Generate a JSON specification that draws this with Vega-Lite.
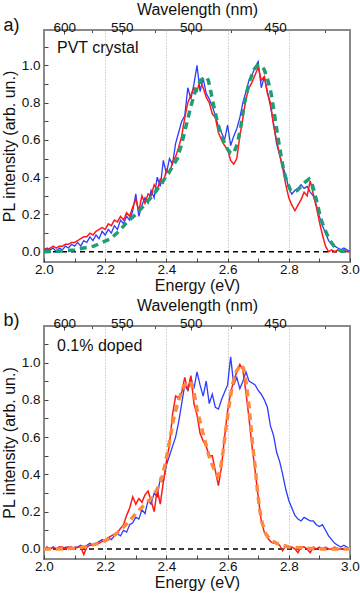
{
"$schema": "https://vega.github.io/schema/vega-lite/v6.json",
"padding": {"left": 0, "top": 0, "right": 0, "bottom": 0},
"config": {"font": "Liberation Sans", "view": {"stroke": "#8a8a8a", "strokeWidth": 2},
  "axis": {"domain": false, "grid": false, "labelFontSize": 13.5, "titleFontSize": 16, "titleFontWeight": "normal", "labelColor": "#111", "titleColor": "#111", "tickColor": "#444", "tickWidth": 1, "labelFlush": false, "labelOverlap": false}},
"datasets": {
"aBlue": [{"E":2.00,"I":0.01},{"E":2.01,"I":0.02},{"E":2.02,"I":0.01},{"E":2.03,"I":0.02},{"E":2.04,"I":0.00},{"E":2.05,"I":0.02},{"E":2.06,"I":0.01},{"E":2.07,"I":0.03},{"E":2.08,"I":0.02},{"E":2.09,"I":0.04},{"E":2.10,"I":0.03},{"E":2.11,"I":0.05},{"E":2.12,"I":0.03},{"E":2.13,"I":0.06},{"E":2.14,"I":0.05},{"E":2.15,"I":0.08},{"E":2.16,"I":0.06},{"E":2.17,"I":0.09},{"E":2.18,"I":0.07},{"E":2.19,"I":0.11},{"E":2.20,"I":0.09},{"E":2.21,"I":0.12},{"E":2.22,"I":0.10},{"E":2.23,"I":0.14},{"E":2.24,"I":0.12},{"E":2.25,"I":0.17},{"E":2.26,"I":0.15},{"E":2.27,"I":0.19},{"E":2.28,"I":0.17},{"E":2.29,"I":0.22},{"E":2.30,"I":0.31},{"E":2.31,"I":0.19},{"E":2.32,"I":0.25},{"E":2.33,"I":0.29},{"E":2.34,"I":0.26},{"E":2.35,"I":0.33},{"E":2.36,"I":0.29},{"E":2.37,"I":0.40},{"E":2.38,"I":0.35},{"E":2.39,"I":0.49},{"E":2.40,"I":0.42},{"E":2.41,"I":0.50},{"E":2.42,"I":0.47},{"E":2.43,"I":0.58},{"E":2.44,"I":0.64},{"E":2.45,"I":0.70},{"E":2.46,"I":0.73},{"E":2.47,"I":0.88},{"E":2.48,"I":0.82},{"E":2.49,"I":0.90},{"E":2.50,"I":1.00},{"E":2.51,"I":0.86},{"E":2.52,"I":0.93},{"E":2.53,"I":0.85},{"E":2.54,"I":0.82},{"E":2.55,"I":0.78},{"E":2.56,"I":0.73},{"E":2.57,"I":0.67},{"E":2.58,"I":0.64},{"E":2.59,"I":0.60},{"E":2.60,"I":0.68},{"E":2.61,"I":0.57},{"E":2.62,"I":0.62},{"E":2.63,"I":0.66},{"E":2.64,"I":0.72},{"E":2.65,"I":0.80},{"E":2.66,"I":0.86},{"E":2.67,"I":0.92},{"E":2.68,"I":0.95},{"E":2.69,"I":0.99},{"E":2.70,"I":1.02},{"E":2.71,"I":0.88},{"E":2.72,"I":0.94},{"E":2.73,"I":0.86},{"E":2.74,"I":0.78},{"E":2.75,"I":0.69},{"E":2.76,"I":0.58},{"E":2.77,"I":0.52},{"E":2.78,"I":0.46},{"E":2.79,"I":0.41},{"E":2.80,"I":0.34},{"E":2.81,"I":0.31},{"E":2.82,"I":0.33},{"E":2.83,"I":0.34},{"E":2.84,"I":0.36},{"E":2.85,"I":0.34},{"E":2.86,"I":0.35},{"E":2.87,"I":0.32},{"E":2.88,"I":0.30},{"E":2.89,"I":0.25},{"E":2.90,"I":0.19},{"E":2.91,"I":0.14},{"E":2.92,"I":0.10},{"E":2.93,"I":0.06},{"E":2.94,"I":0.04},{"E":2.95,"I":0.03},{"E":2.96,"I":0.02},{"E":2.97,"I":0.01},{"E":2.98,"I":0.02},{"E":2.99,"I":0.01},{"E":3.00,"I":0.00}],
"aRed": [{"E":2.00,"I":0.02},{"E":2.01,"I":0.01},{"E":2.02,"I":0.02},{"E":2.03,"I":0.03},{"E":2.04,"I":0.02},{"E":2.05,"I":0.03},{"E":2.06,"I":0.03},{"E":2.07,"I":0.04},{"E":2.08,"I":0.04},{"E":2.09,"I":0.05},{"E":2.10,"I":0.05},{"E":2.11,"I":0.06},{"E":2.12,"I":0.07},{"E":2.13,"I":0.08},{"E":2.14,"I":0.08},{"E":2.15,"I":0.10},{"E":2.16,"I":0.09},{"E":2.17,"I":0.11},{"E":2.18,"I":0.12},{"E":2.19,"I":0.13},{"E":2.20,"I":0.12},{"E":2.21,"I":0.15},{"E":2.22,"I":0.14},{"E":2.23,"I":0.17},{"E":2.24,"I":0.16},{"E":2.25,"I":0.19},{"E":2.26,"I":0.17},{"E":2.27,"I":0.21},{"E":2.28,"I":0.19},{"E":2.29,"I":0.24},{"E":2.30,"I":0.28},{"E":2.31,"I":0.22},{"E":2.32,"I":0.30},{"E":2.33,"I":0.26},{"E":2.34,"I":0.31},{"E":2.35,"I":0.30},{"E":2.36,"I":0.36},{"E":2.37,"I":0.33},{"E":2.38,"I":0.39},{"E":2.39,"I":0.37},{"E":2.40,"I":0.44},{"E":2.41,"I":0.42},{"E":2.42,"I":0.48},{"E":2.43,"I":0.51},{"E":2.44,"I":0.56},{"E":2.45,"I":0.62},{"E":2.46,"I":0.72},{"E":2.47,"I":0.80},{"E":2.48,"I":0.84},{"E":2.49,"I":0.88},{"E":2.50,"I":0.86},{"E":2.51,"I":0.92},{"E":2.52,"I":0.88},{"E":2.53,"I":0.83},{"E":2.54,"I":0.80},{"E":2.55,"I":0.74},{"E":2.56,"I":0.72},{"E":2.57,"I":0.64},{"E":2.58,"I":0.60},{"E":2.59,"I":0.57},{"E":2.60,"I":0.55},{"E":2.61,"I":0.49},{"E":2.62,"I":0.47},{"E":2.63,"I":0.50},{"E":2.64,"I":0.62},{"E":2.65,"I":0.72},{"E":2.66,"I":0.82},{"E":2.67,"I":0.88},{"E":2.68,"I":0.91},{"E":2.69,"I":0.95},{"E":2.70,"I":0.99},{"E":2.71,"I":0.92},{"E":2.72,"I":0.94},{"E":2.73,"I":0.85},{"E":2.74,"I":0.80},{"E":2.75,"I":0.68},{"E":2.76,"I":0.60},{"E":2.77,"I":0.52},{"E":2.78,"I":0.45},{"E":2.79,"I":0.36},{"E":2.80,"I":0.29},{"E":2.81,"I":0.25},{"E":2.82,"I":0.22},{"E":2.83,"I":0.25},{"E":2.84,"I":0.28},{"E":2.85,"I":0.32},{"E":2.86,"I":0.30},{"E":2.87,"I":0.38},{"E":2.88,"I":0.31},{"E":2.89,"I":0.24},{"E":2.90,"I":0.16},{"E":2.91,"I":0.09},{"E":2.92,"I":0.03},{"E":2.93,"I":0.00},{"E":2.94,"I":0.01},{"E":2.95,"I":0.00},{"E":2.96,"I":0.01},{"E":2.97,"I":0.00},{"E":2.98,"I":0.01},{"E":2.99,"I":0.00},{"E":3.00,"I":0.00}],
"aGreen": [{"E":2.0,"I":0.0},{"E":2.05,"I":0.003},{"E":2.1,"I":0.01},{"E":2.13,"I":0.02},{"E":2.163,"I":0.03},{"E":2.19,"I":0.05},{"E":2.218,"I":0.07},{"E":2.245,"I":0.11},{"E":2.272,"I":0.16},{"E":2.3,"I":0.2},{"E":2.327,"I":0.25},{"E":2.355,"I":0.3},{"E":2.381,"I":0.36},{"E":2.41,"I":0.43},{"E":2.436,"I":0.5},{"E":2.45,"I":0.58},{"E":2.468,"I":0.7},{"E":2.48,"I":0.78},{"E":2.49,"I":0.84},{"E":2.5,"I":0.885},{"E":2.512,"I":0.92},{"E":2.528,"I":0.94},{"E":2.537,"I":0.92},{"E":2.545,"I":0.86},{"E":2.555,"I":0.78},{"E":2.566,"I":0.7},{"E":2.577,"I":0.64},{"E":2.588,"I":0.59},{"E":2.6,"I":0.55},{"E":2.61,"I":0.53},{"E":2.62,"I":0.53},{"E":2.632,"I":0.58},{"E":2.643,"I":0.67},{"E":2.654,"I":0.79},{"E":2.665,"I":0.87},{"E":2.675,"I":0.93},{"E":2.687,"I":0.98},{"E":2.697,"I":1.0},{"E":2.708,"I":1.0},{"E":2.719,"I":0.98},{"E":2.73,"I":0.93},{"E":2.741,"I":0.86},{"E":2.752,"I":0.75},{"E":2.763,"I":0.63},{"E":2.774,"I":0.52},{"E":2.784,"I":0.43},{"E":2.795,"I":0.37},{"E":2.806,"I":0.33},{"E":2.817,"I":0.32},{"E":2.828,"I":0.33},{"E":2.84,"I":0.35},{"E":2.85,"I":0.37},{"E":2.866,"I":0.39},{"E":2.875,"I":0.37},{"E":2.882,"I":0.33},{"E":2.893,"I":0.26},{"E":2.904,"I":0.18},{"E":2.915,"I":0.13},{"E":2.926,"I":0.09},{"E":2.937,"I":0.055},{"E":2.948,"I":0.03},{"E":2.96,"I":0.015},{"E":2.97,"I":0.005},{"E":2.985,"I":0.002},{"E":3.0,"I":0.0}],
"bBlue": [{"E":2.00,"I":0.00},{"E":2.01,"I":0.01},{"E":2.02,"I":0.00},{"E":2.03,"I":0.01},{"E":2.04,"I":0.00},{"E":2.05,"I":0.01},{"E":2.06,"I":0.00},{"E":2.07,"I":0.01},{"E":2.08,"I":0.01},{"E":2.09,"I":0.00},{"E":2.10,"I":0.01},{"E":2.11,"I":0.01},{"E":2.12,"I":0.02},{"E":2.13,"I":0.01},{"E":2.14,"I":0.02},{"E":2.15,"I":0.03},{"E":2.16,"I":0.02},{"E":2.17,"I":0.03},{"E":2.18,"I":0.04},{"E":2.19,"I":0.05},{"E":2.20,"I":0.04},{"E":2.21,"I":0.06},{"E":2.22,"I":0.05},{"E":2.23,"I":0.07},{"E":2.24,"I":0.08},{"E":2.25,"I":0.07},{"E":2.26,"I":0.10},{"E":2.27,"I":0.09},{"E":2.28,"I":0.13},{"E":2.29,"I":0.14},{"E":2.30,"I":0.17},{"E":2.31,"I":0.16},{"E":2.32,"I":0.21},{"E":2.33,"I":0.19},{"E":2.34,"I":0.26},{"E":2.35,"I":0.24},{"E":2.36,"I":0.30},{"E":2.37,"I":0.28},{"E":2.38,"I":0.38},{"E":2.39,"I":0.36},{"E":2.40,"I":0.45},{"E":2.41,"I":0.50},{"E":2.42,"I":0.55},{"E":2.43,"I":0.60},{"E":2.44,"I":0.68},{"E":2.45,"I":0.78},{"E":2.46,"I":0.88},{"E":2.47,"I":0.85},{"E":2.48,"I":0.92},{"E":2.49,"I":0.86},{"E":2.50,"I":0.95},{"E":2.51,"I":0.88},{"E":2.52,"I":0.82},{"E":2.53,"I":0.90},{"E":2.54,"I":0.78},{"E":2.55,"I":0.83},{"E":2.56,"I":0.76},{"E":2.57,"I":0.75},{"E":2.58,"I":0.80},{"E":2.59,"I":0.84},{"E":2.60,"I":0.88},{"E":2.61,"I":1.03},{"E":2.62,"I":0.88},{"E":2.63,"I":0.92},{"E":2.64,"I":0.86},{"E":2.65,"I":0.90},{"E":2.66,"I":0.95},{"E":2.67,"I":0.90},{"E":2.68,"I":0.89},{"E":2.69,"I":0.88},{"E":2.70,"I":0.85},{"E":2.71,"I":0.83},{"E":2.72,"I":0.80},{"E":2.73,"I":0.76},{"E":2.74,"I":0.66},{"E":2.75,"I":0.61},{"E":2.76,"I":0.52},{"E":2.77,"I":0.47},{"E":2.78,"I":0.40},{"E":2.79,"I":0.32},{"E":2.80,"I":0.26},{"E":2.81,"I":0.22},{"E":2.82,"I":0.18},{"E":2.83,"I":0.16},{"E":2.84,"I":0.15},{"E":2.85,"I":0.17},{"E":2.86,"I":0.16},{"E":2.87,"I":0.15},{"E":2.88,"I":0.15},{"E":2.89,"I":0.13},{"E":2.90,"I":0.12},{"E":2.91,"I":0.13},{"E":2.92,"I":0.10},{"E":2.93,"I":0.07},{"E":2.94,"I":0.05},{"E":2.95,"I":0.03},{"E":2.96,"I":0.02},{"E":2.97,"I":0.01},{"E":2.98,"I":0.02},{"E":2.99,"I":0.01},{"E":3.00,"I":0.00}],
"bRed": [{"E":2.00,"I":0.00},{"E":2.01,"I":0.01},{"E":2.02,"I":0.00},{"E":2.03,"I":0.01},{"E":2.04,"I":0.00},{"E":2.05,"I":0.01},{"E":2.06,"I":0.01},{"E":2.07,"I":0.00},{"E":2.08,"I":0.01},{"E":2.09,"I":0.01},{"E":2.10,"I":0.00},{"E":2.11,"I":0.01},{"E":2.12,"I":0.01},{"E":2.13,"I":-0.03},{"E":2.14,"I":0.01},{"E":2.15,"I":0.02},{"E":2.16,"I":0.02},{"E":2.17,"I":0.03},{"E":2.18,"I":0.03},{"E":2.19,"I":0.04},{"E":2.20,"I":0.05},{"E":2.21,"I":0.06},{"E":2.22,"I":0.07},{"E":2.23,"I":0.08},{"E":2.24,"I":0.09},{"E":2.25,"I":0.11},{"E":2.26,"I":0.13},{"E":2.27,"I":0.18},{"E":2.28,"I":0.22},{"E":2.29,"I":0.28},{"E":2.30,"I":0.24},{"E":2.31,"I":0.27},{"E":2.32,"I":0.25},{"E":2.33,"I":0.29},{"E":2.34,"I":0.31},{"E":2.35,"I":0.26},{"E":2.36,"I":0.20},{"E":2.37,"I":0.32},{"E":2.38,"I":0.24},{"E":2.39,"I":0.36},{"E":2.40,"I":0.47},{"E":2.41,"I":0.56},{"E":2.42,"I":0.72},{"E":2.43,"I":0.82},{"E":2.44,"I":0.81},{"E":2.45,"I":0.84},{"E":2.46,"I":0.92},{"E":2.47,"I":0.85},{"E":2.48,"I":0.93},{"E":2.49,"I":0.78},{"E":2.50,"I":0.72},{"E":2.51,"I":0.62},{"E":2.52,"I":0.58},{"E":2.53,"I":0.55},{"E":2.54,"I":0.50},{"E":2.55,"I":0.50},{"E":2.56,"I":0.42},{"E":2.57,"I":0.34},{"E":2.58,"I":0.44},{"E":2.59,"I":0.60},{"E":2.60,"I":0.74},{"E":2.61,"I":0.84},{"E":2.62,"I":0.90},{"E":2.63,"I":0.95},{"E":2.64,"I":0.99},{"E":2.65,"I":0.96},{"E":2.66,"I":0.84},{"E":2.67,"I":0.70},{"E":2.68,"I":0.55},{"E":2.69,"I":0.42},{"E":2.70,"I":0.28},{"E":2.71,"I":0.15},{"E":2.72,"I":0.09},{"E":2.73,"I":0.06},{"E":2.74,"I":0.04},{"E":2.75,"I":0.03},{"E":2.76,"I":0.03},{"E":2.77,"I":0.02},{"E":2.78,"I":-0.01},{"E":2.79,"I":0.02},{"E":2.80,"I":0.01},{"E":2.81,"I":0.01},{"E":2.82,"I":0.00},{"E":2.83,"I":-0.02},{"E":2.84,"I":0.01},{"E":2.85,"I":0.01},{"E":2.86,"I":0.00},{"E":2.87,"I":-0.02},{"E":2.88,"I":0.01},{"E":2.89,"I":0.00},{"E":2.90,"I":0.01},{"E":2.91,"I":0.00},{"E":2.92,"I":0.01},{"E":2.93,"I":0.00},{"E":2.94,"I":0.00},{"E":2.95,"I":0.01},{"E":2.96,"I":0.00},{"E":2.97,"I":0.00},{"E":2.98,"I":0.00},{"E":2.99,"I":0.00},{"E":3.00,"I":0.00}],
"bOrange": [{"E":2.0,"I":0.0},{"E":2.05,"I":0.0},{"E":2.1,"I":0.003},{"E":2.13,"I":0.01},{"E":2.155,"I":0.02},{"E":2.18,"I":0.03},{"E":2.2,"I":0.045},{"E":2.22,"I":0.06},{"E":2.25,"I":0.1},{"E":2.28,"I":0.15},{"E":2.3,"I":0.19},{"E":2.33,"I":0.24},{"E":2.35,"I":0.27},{"E":2.37,"I":0.32},{"E":2.385,"I":0.38},{"E":2.395,"I":0.45},{"E":2.405,"I":0.53},{"E":2.415,"I":0.62},{"E":2.425,"I":0.71},{"E":2.44,"I":0.8},{"E":2.457,"I":0.875},{"E":2.479,"I":0.9},{"E":2.49,"I":0.84},{"E":2.5,"I":0.75},{"E":2.512,"I":0.67},{"E":2.523,"I":0.6},{"E":2.539,"I":0.5},{"E":2.55,"I":0.45},{"E":2.561,"I":0.41},{"E":2.568,"I":0.39},{"E":2.576,"I":0.42},{"E":2.585,"I":0.52},{"E":2.594,"I":0.64},{"E":2.605,"I":0.77},{"E":2.615,"I":0.875},{"E":2.628,"I":0.95},{"E":2.643,"I":0.99},{"E":2.652,"I":0.97},{"E":2.659,"I":0.91},{"E":2.67,"I":0.77},{"E":2.681,"I":0.57},{"E":2.69,"I":0.44},{"E":2.697,"I":0.32},{"E":2.705,"I":0.21},{"E":2.713,"I":0.14},{"E":2.725,"I":0.08},{"E":2.74,"I":0.05},{"E":2.76,"I":0.03},{"E":2.78,"I":0.02},{"E":2.8,"I":0.01},{"E":2.85,"I":0.005},{"E":2.9,"I":0.0},{"E":3.0,"I":0.0}],
"labelsA": [{"t":"PVT crystal","E":2.0425,"I":1.096}],
"labelsB": [{"t":"0.1% doped","E":2.0425,"I":1.089}],
"tagA": [{"t":"a)","E":1.894,"I":1.214}],
"tagB": [{"t":"b)","E":1.894,"I":1.223}],
"zero": [{"E":2,"E2":3,"I":0}]
},
"spacing": 64,
"bounds": "flush",
"vconcat": [
{
 "width": 306, "height": 232,
 "resolve": {"axis": {"x": "independent", "y": "independent"}},
 "layer": [
  {"data": {"name": "zero"}, "mark": {"type": "rule", "color": "#000", "strokeWidth": 1.5, "strokeDash": [5, 4]},
   "encoding": {
    "x": {"field": "E", "type": "quantitative", "scale": {"domain": [2, 3], "nice": false, "zero": false}, "axis": {"orient": "top", "values": [2.15624, 2.36160, 2.61019, 2.91727], "tickSize": -2.5, "labels": false, "title": null}},
    "x2": {"field": "E2"},
    "y": {"field": "I", "type": "quantitative", "scale": {"domain": [-0.055, 1.19], "nice": false, "zero": false}, "axis": null}}},
  {"data": {"name": "aBlue"}, "mark": {"type": "line", "color": "#2b3cff", "strokeWidth": 1.3, "clip": true},
   "encoding": {
    "x": {"field": "E", "type": "quantitative", "axis": {"orient": "bottom", "values": [2, 2.1, 2.2, 2.3, 2.4, 2.5, 2.6, 2.7, 2.8, 2.9, 3], "labelExpr": "round(datum.value*10)%2==0 ? format(datum.value,'.1f') : ''", "tickSize": -4, "labelPadding": 4, "titlePadding": 2, "title": "Energy (eV)"}},
    "y": {"field": "I", "type": "quantitative", "axis": {"orient": "left", "values": [0, 0.1, 0.2, 0.3, 0.4, 0.5, 0.6, 0.7, 0.8, 0.9, 1.0, 1.1], "labelExpr": "round(datum.value*10)%2==0 ? format(datum.value,'.1f') : ''", "tickSize": -4, "labelPadding": 8, "title": "PL intensity (arb. un.)"}}}},
  {"data": {"name": "aRed"}, "mark": {"type": "line", "color": "#ff1a1a", "strokeWidth": 1.5, "clip": true},
   "encoding": {
    "x": {"field": "E", "type": "quantitative", "axis": {"orient": "bottom", "values": [2.2, 2.4, 2.6, 2.8], "grid": true, "gridDash": [1, 2], "gridColor": "#aaaaaa", "ticks": false, "labels": false, "title": null}},
    "y": {"field": "I", "type": "quantitative", "axis": null}}},
  {"data": {"name": "aGreen"}, "mark": {"type": "line", "color": "#1f9e74", "strokeWidth": 3.5, "strokeDash": [7, 5], "clip": true},
   "encoding": {
    "x": {"field": "E", "type": "quantitative", "axis": {"orient": "top", "values": [2.06640, 2.25426, 2.47968, 2.75520], "labelExpr": "format(1239.84/datum.value,'.0f')", "tickSize": -4, "labelPadding": 0, "titlePadding": 3, "title": "Wavelength (nm)"}},
    "y": {"field": "I", "type": "quantitative", "axis": null}}},
  {"data": {"name": "labelsA"}, "mark": {"type": "text", "align": "left", "baseline": "middle", "fontSize": 16, "color": "#111"},
   "encoding": {"x": {"field": "E", "type": "quantitative", "axis": null}, "y": {"field": "I", "type": "quantitative", "axis": null}, "text": {"field": "t"}}},
  {"data": {"name": "tagA"}, "mark": {"type": "text", "align": "center", "baseline": "middle", "fontSize": 18, "color": "#111"},
   "encoding": {"x": {"field": "E", "type": "quantitative", "axis": null}, "y": {"field": "I", "type": "quantitative", "axis": null}, "text": {"field": "t"}}}
 ]
},
{
 "width": 306, "height": 233,
 "resolve": {"axis": {"x": "independent", "y": "independent"}},
 "layer": [
  {"data": {"name": "zero"}, "mark": {"type": "rule", "color": "#000", "strokeWidth": 1.5, "strokeDash": [5, 4]},
   "encoding": {
    "x": {"field": "E", "type": "quantitative", "scale": {"domain": [2, 3], "nice": false, "zero": false}, "axis": {"orient": "top", "values": [2.15624, 2.36160, 2.61019, 2.91727], "tickSize": -2.5, "labels": false, "title": null}},
    "x2": {"field": "E2"},
    "y": {"field": "I", "type": "quantitative", "scale": {"domain": [-0.054, 1.196], "nice": false, "zero": false}, "axis": null}}},
  {"data": {"name": "bBlue"}, "mark": {"type": "line", "color": "#2b3cff", "strokeWidth": 1.3, "clip": true},
   "encoding": {
    "x": {"field": "E", "type": "quantitative", "axis": {"orient": "bottom", "values": [2, 2.1, 2.2, 2.3, 2.4, 2.5, 2.6, 2.7, 2.8, 2.9, 3], "labelExpr": "round(datum.value*10)%2==0 ? format(datum.value,'.1f') : ''", "tickSize": -4, "labelPadding": 4, "titlePadding": 2, "title": "Energy (eV)"}},
    "y": {"field": "I", "type": "quantitative", "axis": {"orient": "left", "values": [0, 0.1, 0.2, 0.3, 0.4, 0.5, 0.6, 0.7, 0.8, 0.9, 1.0, 1.1], "labelExpr": "round(datum.value*10)%2==0 ? format(datum.value,'.1f') : ''", "tickSize": -4, "labelPadding": 8, "title": "PL intensity (arb. un.)"}}}},
  {"data": {"name": "bRed"}, "mark": {"type": "line", "color": "#ff1a1a", "strokeWidth": 1.5, "clip": true},
   "encoding": {
    "x": {"field": "E", "type": "quantitative", "axis": {"orient": "bottom", "values": [2.2, 2.4, 2.6, 2.8], "grid": true, "gridDash": [1, 2], "gridColor": "#aaaaaa", "ticks": false, "labels": false, "title": null}},
    "y": {"field": "I", "type": "quantitative", "axis": null}}},
  {"data": {"name": "bOrange"}, "mark": {"type": "line", "color": "#ff8a3d", "strokeWidth": 3.5, "strokeDash": [7, 5], "clip": true},
   "encoding": {
    "x": {"field": "E", "type": "quantitative", "axis": {"orient": "top", "values": [2.06640, 2.25426, 2.47968, 2.75520], "labelExpr": "format(1239.84/datum.value,'.0f')", "tickSize": -4, "labelPadding": 0, "titlePadding": 3, "title": "Wavelength (nm)"}},
    "y": {"field": "I", "type": "quantitative", "axis": null}}},
  {"data": {"name": "labelsB"}, "mark": {"type": "text", "align": "left", "baseline": "middle", "fontSize": 16, "color": "#111"},
   "encoding": {"x": {"field": "E", "type": "quantitative", "axis": null}, "y": {"field": "I", "type": "quantitative", "axis": null}, "text": {"field": "t"}}},
  {"data": {"name": "tagB"}, "mark": {"type": "text", "align": "center", "baseline": "middle", "fontSize": 18, "color": "#111"},
   "encoding": {"x": {"field": "E", "type": "quantitative", "axis": null}, "y": {"field": "I", "type": "quantitative", "axis": null}, "text": {"field": "t"}}}
 ]
}
]
}
